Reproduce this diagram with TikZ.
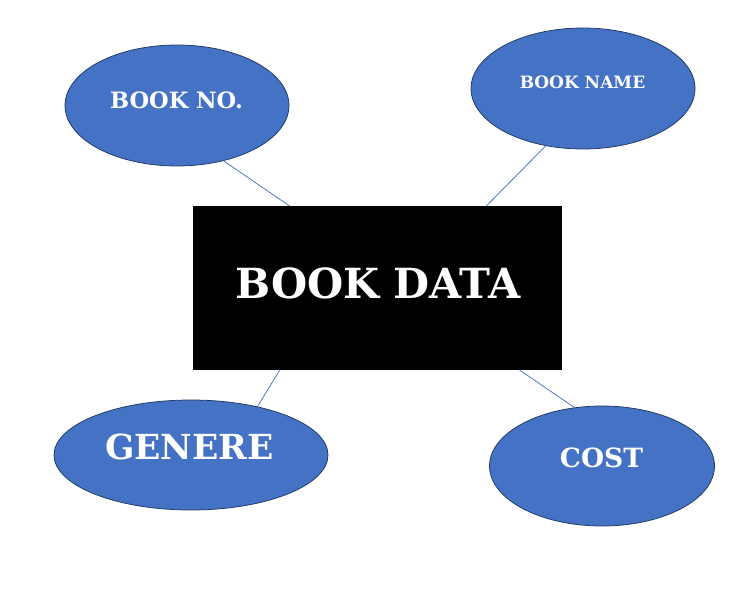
\documentclass[tikz,border=0pt]{standalone}
\usepackage{fontspec}
\setmainfont{DejaVu Serif}
\usetikzlibrary{shapes.geometric}
\definecolor{attrblue}{HTML}{4472C4}
\definecolor{attrline}{HTML}{203864}
\begin{document}
\begin{tikzpicture}[x=1pt, y=-1pt,
    attr/.style={ellipse, draw=attrline, line width=0.75pt, fill=attrblue, inner sep=0pt, outer sep=0pt},
    attrtext/.style={text=white, inner sep=0pt},
    link/.style={draw=attrblue, line width=0.75pt}]
   	    \useasboundingbox (0,0) rectangle (751,607);
   	    \node[fill=black, minimum width=369pt, minimum height=164pt, inner sep=0pt, outer sep=0pt] (data) at (377.5,288) {};
   	    \node[attrtext, font=\fontsize{41.5}{46}\selectfont\bfseries] (datalbl) at (378,283) {BOOK DATA};
   	    \node[attr, minimum width=224pt, minimum height=121pt] (bookno) at (177,105.5) {};
   	    \node[attrtext, font=\fontsize{22.5}{24}\selectfont\bfseries] (booknolbl) at (176.5,100) {BOOK NO.};
   	    \node[attr, minimum width=224pt, minimum height=121pt] (bookname) at (583,88.5) {};
   	    \node[attrtext, font=\fontsize{17}{20}\selectfont\bfseries] (booknamelbl) at (582.5,82) {BOOK NAME};
   	    \node[attr, minimum width=274pt, minimum height=110pt] (genere) at (191,455) {};
   	    \node[attrtext, font=\fontsize{34.5}{40}\selectfont\bfseries] (generelbl) at (189.5,447) {GENERE};
   	    \node[attr, minimum width=225pt, minimum height=120pt] (cost) at (602,466) {};
   	    \node[attrtext, font=\fontsize{26.5}{32}\selectfont\bfseries] (costlbl) at (601.5,458) {COST};
   	    \draw[link] (bookno.310) -- (data.137);
   	    \draw[link] (bookname.237) -- (data.37);
   	    \draw[link] (genere.36) -- (data.220);
   	    \draw[link] (cost.115) -- (data.330);
\end{tikzpicture}
\end{document}
